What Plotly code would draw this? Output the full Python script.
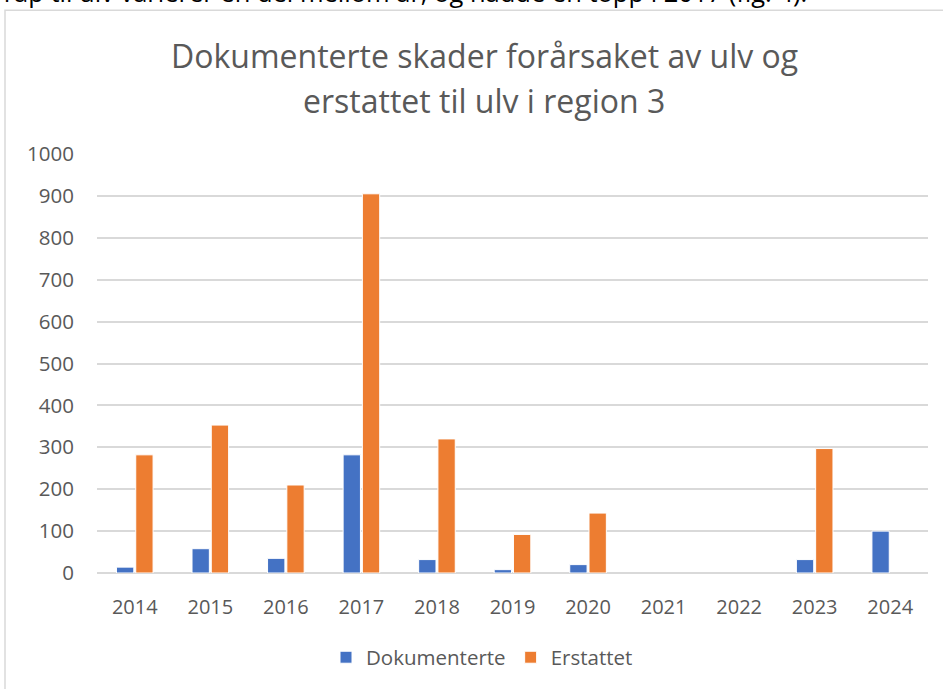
import plotly.graph_objects as go

years = ["2014", "2015", "2016", "2017", "2018", "2019", "2020", "2021", "2022", "2023", "2024"]
dokumenterte = [14, 58, 35, 282, 32, 8, 20, None, None, 32, 100]
erstattet = [282, 353, 210, 905, 320, 92, 143, None, None, 297, None]

W, H = 943, 689
L, R, T, B = 97, 15, 154, 115.5
pw = W - L - R
ph = H - T - B

def px_x(x):
    return (x - L) / pw

def px_y(y):
    return (H - B - y) / ph

font_fam = "Open Sans, Noto Sans, sans-serif"
grey = "#595959"

fig = go.Figure()
fig.add_trace(go.Bar(x=years, y=dokumenterte, name="Dokumenterte",
                     marker=dict(color="#4472C4", line=dict(color="white", width=1))))
fig.add_trace(go.Bar(x=years, y=erstattet, name="Erstattet",
                     marker=dict(color="#ED7D31", line=dict(color="white", width=1))))

fig.update_layout(
    width=W, height=H,
    margin=dict(l=L, r=R, t=T, b=B, pad=0),
    paper_bgcolor="white", plot_bgcolor="white",
    barmode="group", bargap=0.49, bargroupgap=0.1,
    font=dict(family=font_fam, color=grey, size=20),
    showlegend=True,
    legend=dict(orientation="h", x=px_x(482), xanchor="center", y=px_y(658), yanchor="middle",
                font=dict(size=20.5, color=grey), itemwidth=30, traceorder="normal"),
    xaxis=dict(showgrid=False, showline=False, ticks="outside", ticklen=16,
               tickcolor="rgba(0,0,0,0)", tickfont=dict(size=20, color=grey), fixedrange=True),
    yaxis=dict(range=[0, 1000], dtick=100, showgrid=True, gridcolor="#D9D9D9", gridwidth=1.5,
               zeroline=True, zerolinecolor="#D9D9D9", zerolinewidth=1.5,
               ticks="outside", ticklen=18, tickcolor="rgba(0,0,0,0)",
               tickfont=dict(size=20.5, color=grey), showline=False),
)

fig.add_annotation(text="Dokumenterte skader forårsaket av ulv og", xref="paper", yref="paper",
                   x=px_x(484), y=px_y(55), xanchor="center", yanchor="middle",
                   showarrow=False, font=dict(size=32, color=grey, family=font_fam))
fig.add_annotation(text="erstattet til ulv i region 3", xref="paper", yref="paper",
                   x=px_x(484), y=px_y(100), xanchor="center", yanchor="middle",
                   showarrow=False, font=dict(size=32, color=grey, family=font_fam))
fig.add_annotation(text="Tap til ulv varierer en del mellom år, og hadde en topp i 2017 (fig. 4).",
                   xref="paper", yref="paper", x=px_x(-2), y=px_y(-8), xanchor="left",
                   yanchor="middle", showarrow=False,
                   font=dict(size=25.5, color="black", family=font_fam))

fig.add_shape(type="rect", xref="paper", yref="paper",
              x0=px_x(5), x1=px_x(948), y0=px_y(695), y1=px_y(10),
              line=dict(color="#D9D9D9", width=1.5), fillcolor="rgba(0,0,0,0)", layer="below")

fig.write_html("out.html", config={"displayModeBar": False},
               post_script="document.body.style.margin='0';document.body.style.overflow='hidden';")
